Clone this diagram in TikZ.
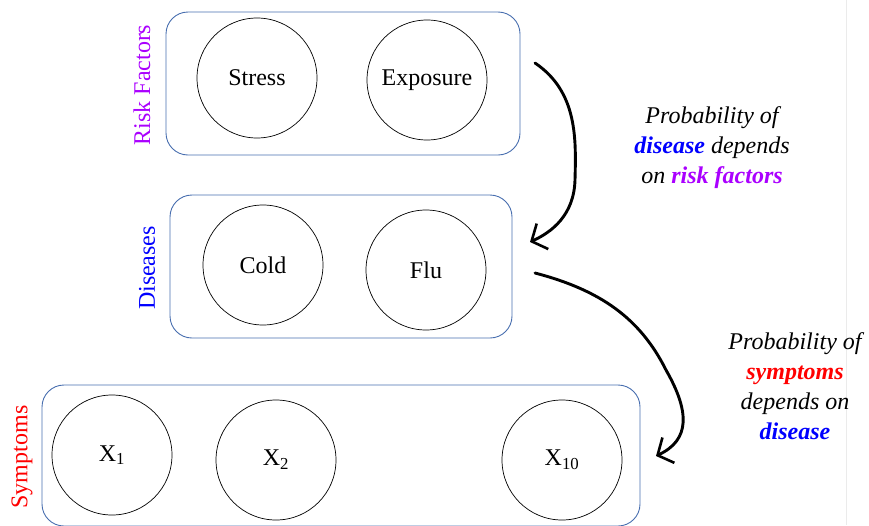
\documentclass[tikz,border=0pt]{standalone}
\usepackage{fontspec}
\setmainfont{Liberation Serif}
\usetikzlibrary{arrows.meta,positioning}

\definecolor{boxblue}{RGB}{72,110,175}
\definecolor{riskpurple}{RGB}{170,0,255}

\begin{document}
\begin{tikzpicture}[
    x=1pt, y=-1pt,
    font=\fontsize{24}{29}\selectfont,
    group/.style={
        rectangle,
        rounded corners=22pt,
        draw=boxblue,
        line width=0.9pt
    },
    var/.style={
        circle,
        draw=black,
        line width=0.7pt,
        minimum size=120pt,
        inner sep=0pt
    },
    tag/.style={
        rotate=90,
        anchor=center
    },
    note/.style={
        align=center,
        font=\fontsize{24}{30}\selectfont\itshape
    },
    handarrow/.style={
        -{Straight Barb[length=12pt,width=28pt,line width=2.6pt]},
        line width=2.9pt,
        line cap=round,
        line join=round
    }
]
\useasboundingbox (0,0) rectangle (869,525);

% Faint edge of the slide
\draw[black!8, line width=0.8pt] (846,0) -- (846,525);

% Group boxes
\node[group, minimum width=354pt, minimum height=143pt] (riskbox) at (343,83.5) {};
\node[group, minimum width=342pt, minimum height=143pt] (diseasebox) at (341,266.5) {};
\node[group, minimum width=598pt, minimum height=141pt] (symptombox) at (341,455.5) {};

% Group labels
\node[tag, text=riskpurple] (risklabel) at (142,85) {Risk Factors};
\node[tag, text=blue] (diseaselabel) at (147,268) {Diseases};
\node[tag, text=red] (symptomlabel) at (22,457) {Symptoms};

% Risk factors
\node[var] (stress) at (257,78) {Stress};
\node[var] (exposure) at (427,80) {Exposure};

% Diseases
\node[var] (cold) at (263,265) {Cold};
\node[var] (flu) at (426,270) {Flu};

% Symptoms
\node[var] (x1) at (112,455) {X\textsubscript{1}};
\node[var] (x2) at (276,460) {X\textsubscript{2}};
\node[var] (x10) at (562,460) {X\textsubscript{10}};

% Notes
\node[note] (note1) at (712,148) {Probability of\\
    \textcolor{blue}{\bfseries disease} depends\\
    on \textcolor{riskpurple}{\bfseries risk factors}};
\node[note] (note2) at (795,386) {Probability of\\
    \textcolor{red}{\bfseries symptoms}\\
    depends on\\
    \textcolor{blue}{\bfseries disease}};

% Hand drawn arrows
\coordinate (a1start) at (535,63);
\coordinate (a1end) at (530,242);
\coordinate (a2start) at (535,273);
\coordinate (a2end) at (656,456);

\draw[handarrow] (a1start) .. controls (578,92) and (576,140) .. (575,180)
    .. controls (574,215) and (552,232) .. (a1end);
\draw[handarrow] (a2start) .. controls (600,290) and (640,318) .. (666,370)
    .. controls (690,412) and (690,440) .. (a2end);

\end{tikzpicture}
\end{document}
